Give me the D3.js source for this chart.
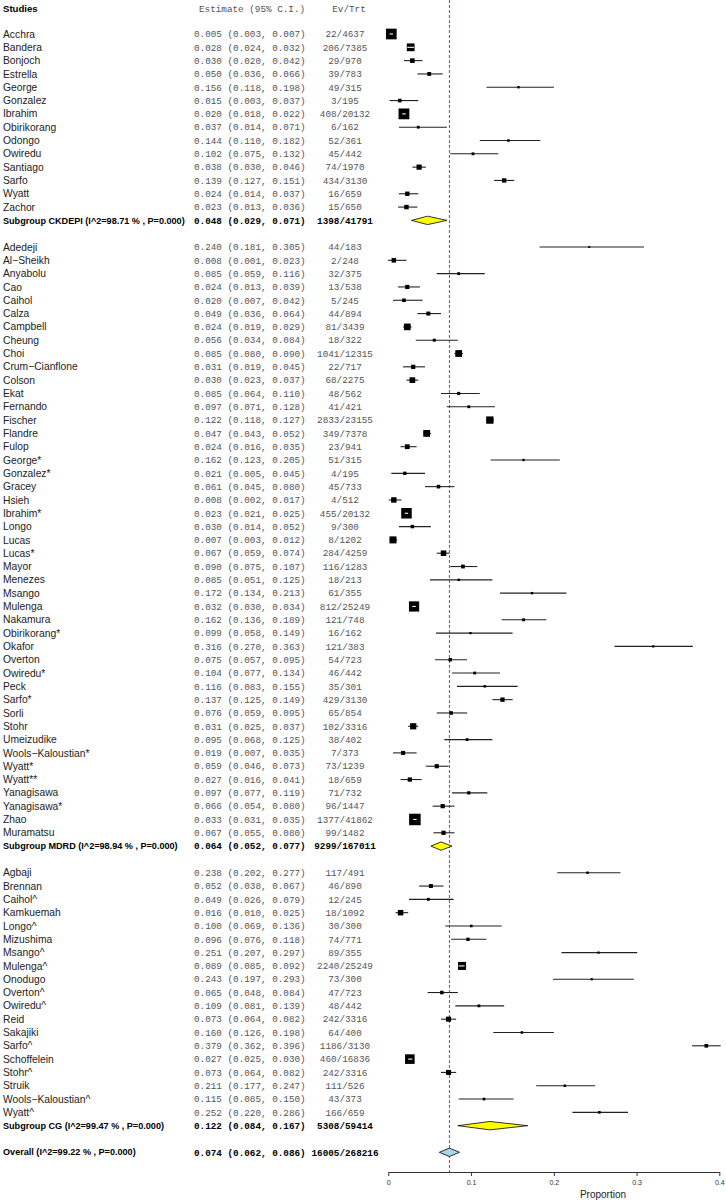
<!DOCTYPE html>
<html>
<head>
<meta charset="utf-8">
<script src="https://cdn.jsdelivr.net/npm/d3@7"></script>
<style>
  body { margin: 0; background: #fff; }
  svg { display: block; }
</style>
</head>
<body>
<div id="plot"></div>
<script>
// ---- data ----
var studyNames = ["Acchra", "Bandera", "Bonjoch", "Estrella", "George", "Gonzalez", "Ibrahim", "Obirikorang", "Odongo", "Owiredu", "Santiago", "Sarfo", "Wyatt", "Zachor",
  "Adedeji", "Al\u2212Sheikh", "Anyabolu", "Cao", "Caihol", "Calza", "Campbell", "Cheung", "Choi", "Crum\u2212Cianflone", "Colson", "Ekat", "Fernando", "Fischer", "Flandre", "Fulop", "George*", "Gonzalez*", "Gracey", "Hsieh", "Ibrahim*", "Longo", "Lucas", "Lucas*", "Mayor", "Menezes", "Msango", "Mulenga", "Nakamura", "Obirikorang*", "Okafor", "Overton", "Owiredu*", "Peck", "Sarfo*", "Sorli", "Stohr", "Umeizudike", "Wools\u2212Kaloustian*", "Wyatt*", "Wyatt**", "Yanagisawa", "Yanagisawa*", "Zhao", "Muramatsu",
  "Agbaji", "Brennan", "Caihol^", "Kamkuemah", "Longo^", "Mizushima", "Msango^", "Mulenga^", "Onodugo", "Overton^", "Owiredu^", "Reid", "Sakajiki", "Sarfo^", "Schoffelein", "Stohr^", "Struik", "Wools\u2212Kaloustian^", "Wyatt^"];

var studyGroup = [].concat(
  d3.range(14).map(function () { return 0; }),
  d3.range(45).map(function () { return 1; }),
  d3.range(19).map(function () { return 2; }));

var studyEst = [0.005, 0.028, 0.030, 0.050, 0.156, 0.015, 0.020, 0.037, 0.144, 0.102, 0.038, 0.139, 0.024, 0.023,
  0.240, 0.008, 0.085, 0.024, 0.020, 0.049, 0.024, 0.056, 0.085, 0.031, 0.030, 0.085, 0.097, 0.122, 0.047, 0.024, 0.162, 0.021, 0.061, 0.008, 0.023, 0.030, 0.007, 0.067, 0.090, 0.085, 0.172, 0.032, 0.162, 0.099, 0.316, 0.075, 0.104, 0.116, 0.137, 0.076, 0.031, 0.095, 0.019, 0.059, 0.027, 0.097, 0.066, 0.033, 0.067,
  0.238, 0.052, 0.049, 0.016, 0.100, 0.096, 0.251, 0.089, 0.243, 0.065, 0.109, 0.073, 0.160, 0.379, 0.027, 0.073, 0.211, 0.115, 0.252];

var studyLo = [0.003, 0.024, 0.020, 0.036, 0.118, 0.003, 0.018, 0.014, 0.110, 0.075, 0.030, 0.127, 0.014, 0.013,
  0.181, 0.001, 0.059, 0.013, 0.007, 0.036, 0.019, 0.034, 0.080, 0.019, 0.023, 0.064, 0.071, 0.118, 0.043, 0.016, 0.123, 0.005, 0.045, 0.002, 0.021, 0.014, 0.003, 0.059, 0.075, 0.051, 0.134, 0.030, 0.136, 0.058, 0.270, 0.057, 0.077, 0.083, 0.125, 0.059, 0.025, 0.068, 0.007, 0.046, 0.016, 0.077, 0.054, 0.031, 0.055,
  0.202, 0.038, 0.026, 0.010, 0.069, 0.076, 0.207, 0.085, 0.197, 0.048, 0.081, 0.064, 0.126, 0.362, 0.025, 0.064, 0.177, 0.085, 0.220];

var studyHi = [0.007, 0.032, 0.042, 0.066, 0.198, 0.037, 0.022, 0.071, 0.182, 0.132, 0.046, 0.151, 0.037, 0.036,
  0.305, 0.023, 0.116, 0.039, 0.042, 0.064, 0.029, 0.084, 0.090, 0.045, 0.037, 0.110, 0.128, 0.127, 0.052, 0.035, 0.205, 0.045, 0.080, 0.017, 0.025, 0.052, 0.012, 0.074, 0.107, 0.125, 0.213, 0.034, 0.189, 0.149, 0.363, 0.095, 0.134, 0.155, 0.149, 0.095, 0.037, 0.125, 0.035, 0.073, 0.041, 0.119, 0.080, 0.035, 0.080,
  0.277, 0.067, 0.079, 0.025, 0.136, 0.118, 0.297, 0.092, 0.293, 0.084, 0.139, 0.082, 0.198, 0.396, 0.030, 0.082, 0.247, 0.150, 0.286];

var studyEv = [22, 206, 29, 39, 49, 3, 408, 6, 52, 45, 74, 434, 16, 15,
  44, 2, 32, 13, 5, 44, 81, 18, 1041, 22, 68, 48, 41, 2833, 349, 23, 51, 4, 45, 4, 455, 9, 8, 284, 116, 18, 61, 812, 121, 16, 121, 54, 46, 35, 429, 65, 102, 38, 7, 73, 18, 71, 96, 1377, 99,
  117, 46, 12, 18, 30, 74, 89, 2240, 73, 47, 48, 242, 64, 1186, 460, 242, 111, 43, 166];

var studyN = [4637, 7385, 970, 783, 315, 195, 20132, 162, 361, 442, 1970, 3130, 659, 650,
  183, 248, 375, 538, 245, 894, 3439, 322, 12315, 717, 2275, 562, 421, 23155, 7378, 941, 315, 195, 733, 512, 20132, 300, 1202, 4259, 1283, 213, 355, 25249, 748, 162, 383, 723, 442, 301, 3130, 854, 3316, 402, 373, 1239, 659, 732, 1447, 41862, 1482,
  491, 890, 245, 1092, 300, 771, 355, 25249, 300, 723, 442, 3316, 400, 3130, 16836, 3316, 526, 373, 659];

var groupLabels = ["Subgroup CKDEPI (I^2=98.71 % , P=0.000)", "Subgroup MDRD (I^2=98.94 % , P=0.000)", "Subgroup CG (I^2=99.47 % , P=0.000)"];
var groupEst = [0.048, 0.064, 0.122];
var groupLo = [0.029, 0.052, 0.084];
var groupHi = [0.071, 0.077, 0.167];
var groupEv = [1398, 9299, 5308];
var groupN = [41791, 167011, 59414];

var overallLabel = "Overall (I^2=99.22 % , P=0.000)";
var overallEst = 0.074, overallLo = 0.062, overallHi = 0.086;
var overallEv = 16005, overallN = 268216;

var axisTicks = [0, 0.1, 0.2, 0.3, 0.4];

// ---- build rows: studies, subgroup line, blank ----
var rows = [];
groupLabels.forEach(function (lab, g) {
  studyNames.forEach(function (name, i) {
    if (studyGroup[i] !== g) return;
    rows.push({type: "study", label: name, est: studyEst[i], lo: studyLo[i], hi: studyHi[i], ev: studyEv[i], n: studyN[i]});
  });
  rows.push({type: "group", label: lab, est: groupEst[g], lo: groupLo[g], hi: groupHi[g], ev: groupEv[g], n: groupN[g]});
  rows.push({type: "blank"});
});
rows.push({type: "overall", label: overallLabel, est: overallEst, lo: overallLo, hi: overallHi, ev: overallEv, n: overallN});
rows.forEach(function (r, i) { r.idx = i; });

var width = 726, height = 1200;

var yRow = d3.scaleLinear().domain([0, rows.length - 1]).range([34, 1152.3]);
var x = d3.scaleLinear().domain([0, 0.4]).range([387.1, 724]);
var xAxisScale = d3.scaleLinear().domain([0, 0.4]).range([388.3, 719.3]);
var fmt = d3.format(".3f");

// box size grows with precision (from events / totals)
function boxSize(r) {
  var p = r.ev / r.n;
  var se = Math.sqrt(p * (1 - p) / r.n);
  return 0.34 / Math.sqrt(se);
}

var svg = d3.select("#plot").append("svg")
  .attr("width", width)
  .attr("height", height);

var sans = "'Liberation Sans', Arial, Helvetica, sans-serif",
  mono = "'Liberation Mono', 'Courier New', 'DejaVu Sans Mono', monospace";
var charW = 5.585; // width of one mono character in the reference

// fixes the width of a mono string so the columns line up as in the picture
function monoLen(s) { return s.length * charW; }

var estX = 194, evX = 345;

// headers
svg.append("text").attr("x", 3).attr("y", 9).attr("dy", "0.35em")
  .style("font-family", sans).style("font-size", "9.6px").style("font-weight", "bold")
  .text("Studies");
svg.append("text").attr("x", estX + 5).attr("y", 9).attr("dy", "0.35em")
  .style("font-family", mono).style("font-size", "9.3px").attr("fill", "#555")
  .attr("textLength", monoLen("Estimate (95% C.I.)")).attr("lengthAdjust", "spacingAndGlyphs")
  .text("Estimate (95% C.I.)");
svg.append("text").attr("x", evX + 4).attr("y", 9).attr("dy", "0.35em").attr("text-anchor", "middle")
  .style("font-family", mono).style("font-size", "9.3px").attr("fill", "#555")
  .attr("textLength", monoLen("Ev/Trt")).attr("lengthAdjust", "spacingAndGlyphs")
  .text("Ev/Trt");

var filled = rows.filter(function (r) { return r.type !== "blank"; });

var txt = svg.append("g").attr("class", "table");
var rowG = txt.selectAll("g").data(filled).enter().append("g")
  .attr("transform", function (d) { return "translate(0," + yRow(d.idx) + ")"; });

rowG.append("text").attr("x", 3).attr("dy", "0.35em")
  .style("font-family", sans)
  .style("font-size", function (d) { return d.type === "study" ? "10.3px" : "9.1px"; })
  .style("font-weight", function (d) { return d.type === "study" ? "normal" : "bold"; })
  .attr("fill", function (d) { return d.type === "study" ? "#222" : "#000"; })
  .text(function (d) { return d.label; });

rowG.append("text").attr("x", estX).attr("dy", "0.35em")
  .style("font-family", mono).style("font-size", "9.3px")
  .style("font-weight", function (d) { return d.type === "study" ? "normal" : "bold"; })
  .attr("fill", function (d) { return d.type === "study" ? "#555" : "#000"; })
  .text(function (d) { return fmt(d.est) + " (" + fmt(d.lo) + ", " + fmt(d.hi) + ")"; })
  .attr("textLength", function () { return monoLen(this.textContent); })
  .attr("lengthAdjust", "spacingAndGlyphs");

rowG.append("text").attr("x", evX).attr("dy", "0.35em").attr("text-anchor", "middle")
  .style("font-family", mono).style("font-size", "9.3px")
  .style("font-weight", function (d) { return d.type === "study" ? "normal" : "bold"; })
  .attr("fill", function (d) { return d.type === "study" ? "#555" : "#000"; })
  .text(function (d) { return d.ev + "/" + d.n; })
  .attr("textLength", function () { return monoLen(this.textContent); })
  .attr("lengthAdjust", "spacingAndGlyphs");

// reference line at overall estimate
var axisY = 1172;
svg.append("line")
  .attr("x1", x(overallEst)).attr("x2", x(overallEst))
  .attr("y1", 0).attr("y2", axisY)
  .attr("stroke", "#d03030").attr("stroke-width", 1)
  .attr("stroke-dasharray", "3,2");

// studies: CI line + box
var studies = rows.filter(function (r) { return r.type === "study"; });
var marks = svg.append("g").attr("class", "marks");

marks.selectAll("line.ci").data(studies).enter().append("line")
  .attr("class", "ci")
  .attr("x1", function (d) { return x(d.lo); })
  .attr("x2", function (d) { return x(d.hi); })
  .attr("y1", function (d) { return yRow(d.idx); })
  .attr("y2", function (d) { return yRow(d.idx); })
  .attr("stroke", "#222").attr("stroke-width", 1.1);

marks.selectAll("rect.box").data(studies).enter().append("rect")
  .attr("class", "box")
  .attr("x", function (d) { return x(d.est) - boxSize(d) / 2; })
  .attr("y", function (d) { return yRow(d.idx) - boxSize(d) / 2; })
  .attr("width", function (d) { return boxSize(d); })
  .attr("height", function (d) { return boxSize(d); })
  .attr("fill", "#000");

// CI hidden inside the box -> draw it in white
marks.selectAll("line.inner").data(studies.filter(function (d) {
    return x(d.hi) - x(d.lo) < boxSize(d);
  })).enter().append("line")
  .attr("class", "inner")
  .attr("x1", function (d) { return x(d.lo); })
  .attr("x2", function (d) { return x(d.hi); })
  .attr("y1", function (d) { return yRow(d.idx); })
  .attr("y2", function (d) { return yRow(d.idx); })
  .attr("stroke", "#fff").attr("stroke-width", 1.1);

// diamonds
var pooled = rows.filter(function (r) { return r.type === "group" || r.type === "overall"; });
marks.selectAll("path.diamond").data(pooled).enter().append("path")
  .attr("class", "diamond")
  .attr("d", function (d) {
    var yy = yRow(d.idx), h = 4.2;
    return "M" + x(d.lo) + "," + yy + "L" + x(d.est) + "," + (yy - h) +
      "L" + x(d.hi) + "," + yy + "L" + x(d.est) + "," + (yy + h) + "Z";
  })
  .attr("fill", function (d) { return d.type === "overall" ? "#a8d8e8" : "#ffff00"; })
  .attr("stroke", "#000").attr("stroke-width", 0.8);

// axis
var xAxis = d3.axisBottom(xAxisScale).tickValues(axisTicks)
  .tickFormat(function (d) { return d === 0 ? "0" : d3.format(".1f")(d); })
  .tickSize(4).tickSizeOuter(0);

var ax = svg.append("g")
  .attr("transform", "translate(0," + axisY + ")")
  .call(xAxis);
ax.select(".domain").attr("stroke", "#333");
ax.selectAll(".tick line").attr("stroke", "#333");
ax.selectAll(".tick text")
  .attr("y", 8)
  .style("font-family", sans).style("font-size", "7px").attr("fill", "#333");

svg.append("text")
  .attr("x", 603).attr("y", 1197.5)
  .attr("text-anchor", "middle")
  .style("font-family", sans).style("font-size", "10px").attr("fill", "#222")
  .text("Proportion");
</script>
</body>
</html>
